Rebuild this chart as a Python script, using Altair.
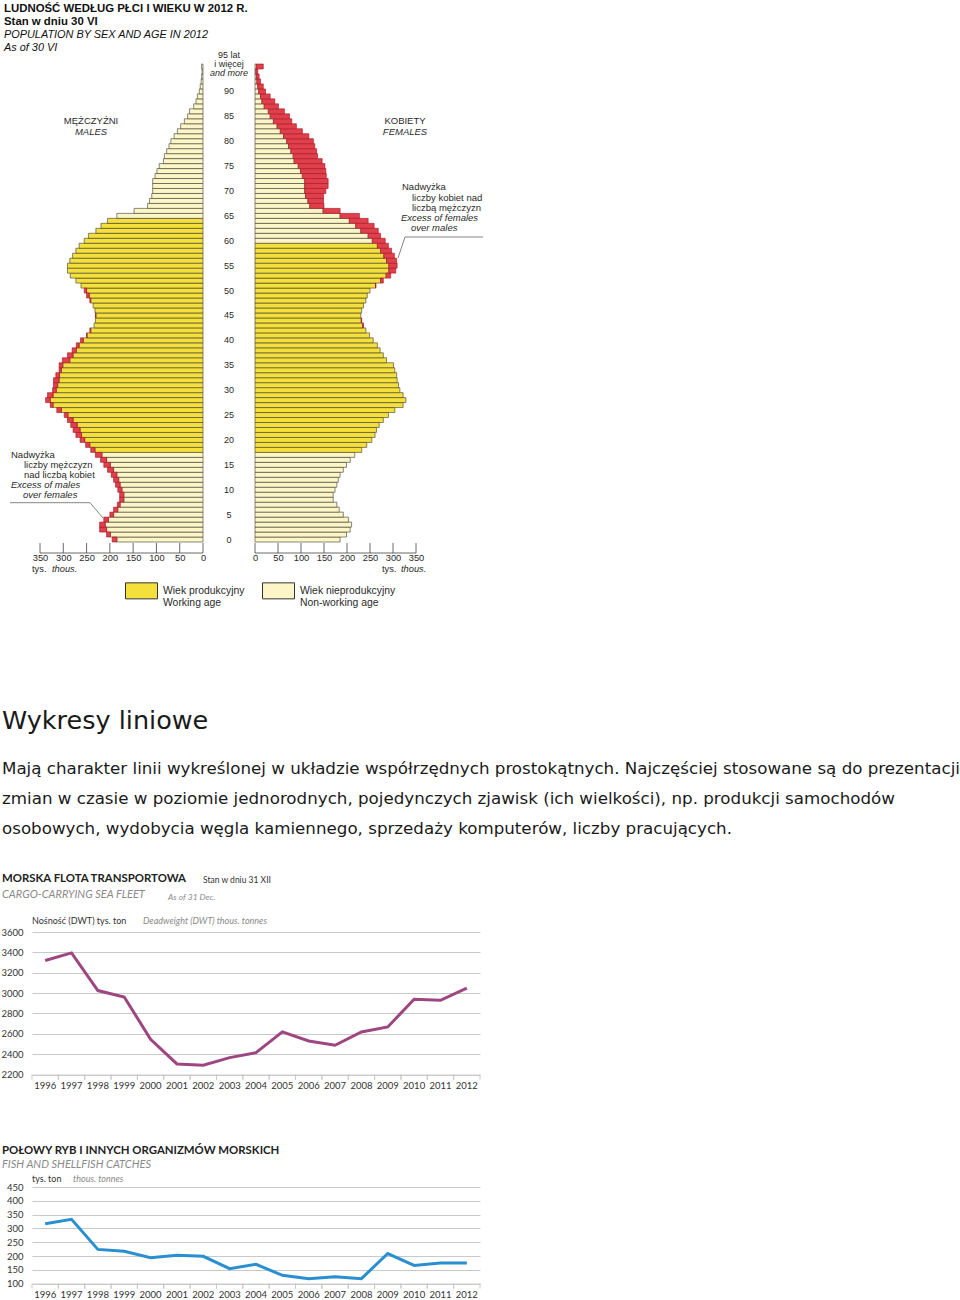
import altair as alt
import pandas as pd

# ---------------- data ----------------
ages = list(range(96))  # 95 = "95 lat i więcej"
males = [195, 207, 222, 222, 213, 200, 192, 184, 179, 179,
         183, 188, 192, 197, 205, 213, 220, 231, 241, 252,
         264, 273, 279, 284, 291, 298, 314, 328, 338, 334,
         323, 321, 321, 316, 309, 309, 302, 291, 281, 272,
         263, 250, 243, 234, 231, 231, 232, 236, 243, 250,
         255, 262, 273, 285, 291, 291, 286, 280, 273, 266,
         255, 246, 230, 219, 205, 185, 148, 119, 115, 110,
         108, 108, 108, 103, 99, 94, 85, 83, 78, 73,
         69, 62, 55, 48, 40, 33, 29, 20, 15, 12,
         8, 6, 4, 3, 2, 3]
females = [185, 199, 207, 210, 203, 192, 183, 178, 170, 170,
           174, 178, 181, 185, 192, 199, 207, 217, 232, 243,
           254, 261, 264, 270, 279, 290, 304, 322, 328, 322,
           315, 312, 309, 308, 304, 301, 286, 279, 272, 266,
           257, 249, 241, 236, 232, 230, 232, 236, 241, 244,
           250, 263, 279, 295, 306, 309, 308, 303, 297, 290,
           283, 273, 268, 259, 246, 227, 185, 150, 149, 149,
           154, 159, 159, 155, 154, 152, 146, 136, 134, 130,
           127, 117, 103, 90, 80, 75, 64, 51, 43, 33,
           23, 18, 12, 9, 6, 18]
axis_ticks = [0, 50, 100, 150, 200, 250, 300, 350]
age_labels = [0, 5, 10, 15, 20, 25, 30, 35, 40, 45, 50, 55, 60, 65, 70, 75, 80, 85, 90]

years = list(range(1996, 2013))
fleet_dwt = [3320, 3395, 3025, 2962, 2547, 2305, 2292, 2367, 2416, 2619,
             2530, 2488, 2619, 2668, 2939, 2929, 3050]
fleet_ticks = [2200, 2400, 2600, 2800, 3000, 3200, 3400, 3600]
catches = [317, 333, 224, 217, 194, 203, 199, 154, 170, 130,
           118, 125, 118, 209, 166, 175, 175]
catch_ticks = [100, 150, 200, 250, 300, 350, 400, 450]

WORK = "Wiek produkcyjny"
NONWORK = "Wiek nieprodukcyjny"

# ---------------- styles ----------------
YEL = "#f5df3a"
CREAM = "#fcf5c6"
RED = "#e0404c"
RED_D = "#a8101e"
BAR_STROKE = "#3c3a30"
AXC = "#444444"
TXT = "#2a2a2a"
ARIAL = "Liberation Sans"
CAL = "Lato"
GRID = "#c9c9c9"

H = 478
OX = 32            # left offset of every panel (room for line-chart y labels)
W_M = 203 - OX     # males panel: 0 at its right edge
W_F = 161
W_MID = 52


def side_frame(vals, other, work_max):
    rows = []
    for a, v, o in zip(ages, vals, other):
        rows.append({"age": a, "val": v, "base": min(v, o),
                     "grp": WORK if 18 <= a <= work_max else NONWORK})
    return pd.DataFrame(rows)


dm = side_frame(males, females, 64)
dfm = side_frame(females, males, 59)
tick_df = pd.DataFrame({"t": axis_ticks})
axis_df = pd.DataFrame({"a": [axis_ticks[0]], "b": [axis_ticks[-1]]})
one = pd.DataFrame({"k": [0]})

age_dom = ages[::-1]
yenc = alt.Y("age:O", scale=alt.Scale(domain=age_dom, paddingInner=0, paddingOuter=0), axis=None)

legend = alt.Legend(orient="none", legendX=125 - OX, legendY=510, direction="horizontal", title=None,
                    symbolType="M-1,-0.5H1V0.5H-1Z", symbolSize=1024, symbolStrokeColor="#333",
                    symbolStrokeWidth=1, symbolOpacity=1, labelFont=ARIAL, labelFontSize=10.4,
                    labelColor=TXT, labelOffset=5, columnPadding=15, padding=0,
                    labelExpr="datum.label == 'Wiek produkcyjny' ? ['Wiek produkcyjny', 'Working age'] : ['Wiek nieprodukcyjny', 'Non-working age']")
color = alt.Color("grp:N", scale=alt.Scale(domain=[WORK, NONWORK], range=[YEL, CREAM]), legend=legend)


def label(txt, x, y, size=9.5, italic=False, bold=False, col=TXT, align="left", font=ARIAL):
    kw = {}
    if italic:
        kw["fontStyle"] = "italic"
    if bold:
        kw["fontWeight"] = "bold"
    return alt.Chart(one).mark_text(text=txt, align=align, baseline="middle", fontSize=size,
                                    font=font, color=col, **kw).encode(x=alt.value(x), y=alt.value(y))


def line(x1, y1, x2, y2, col="#666", op=1):
    return alt.Chart(one).mark_rule(color=col, strokeWidth=0.8, opacity=op).encode(
        x=alt.value(x1), y=alt.value(y1), x2=alt.value(x2), y2=alt.value(y2))


def side(data, xscale, annotations, width):
    xaxis = alt.Axis(values=axis_ticks, title=None, domain=False, ticks=False, grid=False,
                     labelFont=ARIAL, labelFontSize=9.3, labelColor=TXT, labelPadding=11, format="d",
                     labelFlush=False, labelOverlap=False)
    xb = alt.X("base:Q", scale=xscale, axis=xaxis)
    base = alt.Chart(data).mark_bar(stroke=BAR_STROKE, strokeWidth=0.6).encode(y=yenc, x=xb, color=color)
    excess = alt.Chart(data).transform_filter("datum.val > datum.base").mark_bar(
        fill=RED, stroke=RED_D, strokeWidth=0.6).encode(y=yenc, x=xb, x2="val:Q")
    ticks = alt.Chart(tick_df).mark_rule(color=AXC, strokeWidth=0.8).encode(
        x=alt.X("t:Q", scale=xscale, axis=xaxis), y=alt.value(H + 1), y2=alt.value(H + 11))
    axl = alt.Chart(axis_df).mark_rule(color=AXC, strokeWidth=0.8).encode(
        x=alt.X("a:Q", scale=xscale, axis=xaxis), x2="b:Q", y=alt.value(H + 11))
    return alt.layer(base, excess, ticks, axl, *annotations).properties(width=width, height=H)


m_scale = alt.Scale(domain=[0, 350 * W_M / 163], reverse=True, nice=False, zero=True)
f_scale = alt.Scale(domain=[0, 350], nice=False, zero=True)

male_ann = [
    # page title (top-left)
    label("LUDNOŚĆ WEDŁUG PŁCI I WIEKU W 2012 R.", 4 - OX, -55, size=11.4, bold=True, col="#111"),
    label("Stan w dniu 30 VI", 4 - OX, -42, size=11.4, bold=True, col="#111"),
    label("POPULATION BY SEX AND AGE IN 2012", 4 - OX, -29, size=10.9, italic=True, col="#111"),
    label("As of 30 VI", 4 - OX, -16, size=10.9, italic=True, col="#111"),
    line(0, -64, 1, -64, op=0),
    label("MĘŻCZYŹNI", 91 - OX, 57, align="center"),
    label("MALES", 91 - OX, 67.7, italic=True, align="center"),
    label("Nadwyżka", 11 - OX, 391),
    label("liczby mężczyzn", 24 - OX, 401),
    label("nad liczbą kobiet", 24 - OX, 410.5),
    label("Excess of males", 11 - OX, 420.7, italic=True),
    label("over females", 23 - OX, 431, italic=True),
    line(10 - OX, 438.7, 90 - OX, 438.7),
    line(90 - OX, 438.7, 103 - OX, 454),
    label("tys.", 32 - OX, 505, size=9.3),
    label("thous.", 52 - OX, 505, size=9.3, italic=True),
]
female_ann = [
    label("KOBIETY", 150, 57, align="center"),
    label("FEMALES", 150, 67.7, italic=True, align="center"),
    label("Nadwyżka", 147, 123),
    label("liczby kobiet nad", 157, 133.7),
    label("liczbą mężczyzn", 157, 143.7),
    label("Excess of females", 146, 153.7, italic=True),
    label("over males", 156, 164.3, italic=True),
    line(150, 173, 228, 173),
    line(150, 173, 143, 194),
    label("tys.", 127, 505, size=9.3),
    label("thous.", 146, 505, size=9.3, italic=True),
]

males_chart = side(dm, m_scale, male_ann, W_M)
females_chart = side(dfm, f_scale, female_ann, W_F)

lab_df = pd.DataFrame({"age": age_labels})
mid_y = alt.Y("age:O", scale=alt.Scale(domain=age_dom, paddingInner=0, paddingOuter=0), axis=None)
mid_labels = alt.Chart(lab_df).mark_text(font=ARIAL, fontSize=9, color=TXT, baseline="middle").encode(
    y=mid_y, x=alt.value(W_MID / 2), text="age:O")
top_df = pd.DataFrame({"age": [95]})
top1 = alt.Chart(top_df).mark_text(text="95 lat", font=ARIAL, fontSize=9, color=TXT, dy=-11).encode(
    y=mid_y, x=alt.value(W_MID / 2))
top2 = alt.Chart(top_df).mark_text(text="i więcej", font=ARIAL, fontSize=9, color=TXT, dy=-2).encode(
    y=mid_y, x=alt.value(W_MID / 2))
top3 = alt.Chart(top_df).mark_text(text="and more", font=ARIAL, fontSize=9, color=TXT, dy=7,
                                   fontStyle="italic").encode(y=mid_y, x=alt.value(W_MID / 2))
middle = alt.layer(mid_labels, top1, top2, top3).properties(width=W_MID, height=H)

pyramid = alt.hconcat(males_chart, middle, females_chart, spacing=0, bounds="flush")

# ---------------- text block ----------------
H2 = 298
DJ = "DejaVu Sans"
TX = 2 - OX
text_block = alt.layer(
    label("Wykresy liniowe", TX, 146, size=25.5, font=DJ, col="#1a1a1a"),
    label("Mają charakter linii wykreślonej w układzie współrzędnych prostokątnych. Najczęściej stosowane są do prezentacji",
          TX, 193.5, size=16.7, font=DJ, col="#1a1a1a"),
    label("zmian w czasie w poziomie jednorodnych, pojedynczych zjawisk (ich wielkości), np. produkcji samochodów",
          TX, 223.5, size=16.7, font=DJ, col="#1a1a1a"),
    label("osobowych, wydobycia węgla kamiennego, sprzedaży komputerów, liczby pracujących.",
          TX, 253.5, size=16.7, font=DJ, col="#1a1a1a"),
).properties(width=880, height=H2)

# ---------------- line charts ----------------
LW = 448
GRAYT = "#8a8a8a"


def line_chart(vals, dom, tick_vals, col, height, texts):
    d = pd.DataFrame({"year": years, "v": vals})
    xscale = alt.Scale(type="band", domain=years, paddingInner=0, paddingOuter=0)
    xaxis = alt.Axis(title=None, labelAngle=0, ticks=False, domain=True, domainColor=GRID, grid=False,
                     labelFont=CAL, labelFontSize=9.5, labelColor="#333", labelPadding=6)
    yaxis = alt.Axis(title=None, values=tick_vals, grid=True, gridColor=GRID, gridWidth=1, domain=False,
                     ticks=False, labelPadding=9, labelFont=CAL, labelFontSize=9.5, labelColor="#333",
                     format="d", minExtent=OX, maxExtent=OX)
    yscale = alt.Scale(domain=dom, nice=False, zero=False)
    ln = alt.Chart(d).mark_line(color=col, strokeWidth=3).encode(
        x=alt.X("year:O", scale=xscale, axis=xaxis, bandPosition=0.5),
        y=alt.Y("v:Q", scale=yscale, axis=yaxis))
    t0 = alt.Chart(d).mark_rule(color=GRID, strokeWidth=1).encode(
        x=alt.X("year:O", scale=xscale, axis=xaxis, bandPosition=0), y=alt.value(height), y2=alt.value(height + 5))
    t1 = alt.Chart(d).mark_rule(color=GRID, strokeWidth=1).encode(
        x=alt.X("year:O", scale=xscale, axis=xaxis, bandPosition=1), y=alt.value(height), y2=alt.value(height + 5))
    return alt.layer(ln, t0, t1, *texts).properties(width=LW, height=height)


fleet = line_chart(fleet_dwt, [2200, 3600], fleet_ticks, "#9e467f", 142.6, [
    label("MORSKA FLOTA TRANSPORTOWA", -30, -52.7, size=11.4, bold=True, font=CAL, col="#222"),
    label("Stan w dniu 31 XII", 171, -51.7, size=8.5, font=CAL, col="#333"),
    label("CARGO-CARRYING SEA FLEET", -30, -36.7, size=11, italic=True, font=CAL, col=GRAYT),
    label("As of 31 Dec.", 136, -34.7, size=8.5, italic=True, font=CAL, col=GRAYT),
    label("Nośność (DWT)  tys. ton", 0, -10.7, size=9, font=CAL, col="#333"),
    label("Deadweight (DWT) thous. tonnes", 111, -10.7, size=9, italic=True, font=CAL, col=GRAYT),
])

fish = line_chart(catches, [100, 450], catch_ticks, "#2a8fd0", 96.6, [
    label("POŁOWY RYB I INNYCH ORGANIZMÓW MORSKICH", -30, -35.7, size=11.4, bold=True, font=CAL, col="#222"),
    label("FISH AND SHELLFISH CATCHES", -30, -21.7, size=11, italic=True, font=CAL, col=GRAYT),
    label("tys. ton", 0, -7.7, size=9, font=CAL, col="#333"),
    label("thous. tonnes", 41, -7.7, size=9, italic=True, font=CAL, col=GRAYT),
])

lines = alt.vconcat(fleet, fish, spacing=54)

chart = alt.vconcat(pyramid, text_block, lines, spacing=0).properties(padding=0).configure_view(stroke=None)

chart.save("out.html", embed_options={"renderer": "svg", "actions": False})
